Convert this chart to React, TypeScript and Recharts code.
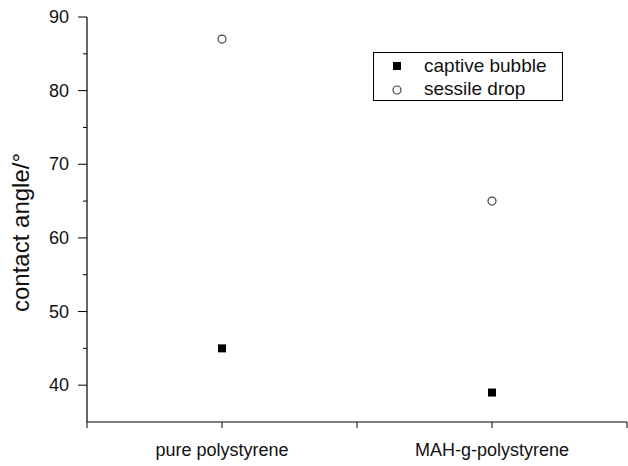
import { ScatterChart, Scatter, XAxis, YAxis } from "recharts";

const categories = ["pure polystyrene", "MAH-g-polystyrene"];
const captiveBubble = [45, 39];
const sessileDrop = [87, 65];
const yTicks = [40, 45, 50, 55, 60, 65, 70, 75, 80, 85, 90];
const yLabelTicks = [40, 50, 60, 70, 80, 90];
const xTicks = [0, 1, 2, 3, 4];
const categoryPositions = [1, 3];

const font = "Liberation Sans, Arial, sans-serif";

const bubbleData = categories.map((c, i) => ({ x: categoryPositions[i], y: captiveBubble[i], name: c }));
const dropData = categories.map((c, i) => ({ x: categoryPositions[i], y: sessileDrop[i], name: c }));

function YTick(props: any) {
  const { x, y, payload } = props;
  const major = yLabelTicks.includes(payload.value);
  const ax = x + 8;
  return (
    <g>
      <line x1={ax} x2={ax - (major ? 9 : 4)} y1={y} y2={y} stroke="#000" strokeWidth={1} />
      {major && (
        <text x={ax - 18} y={y} textAnchor="end" dominantBaseline="central" fontSize={18} fontFamily={font} fill="#111">
          {payload.value}
        </text>
      )}
    </g>
  );
}

function XTick(props: any) {
  const { x, y, payload } = props;
  const idx = categoryPositions.indexOf(payload.value);
  const ay = y - 8;
  return (
    <g>
      <line x1={x} x2={x} y1={ay} y2={ay + 6} stroke="#000" strokeWidth={1} />
      {idx >= 0 && (
        <text x={x} y={ay + 34} textAnchor="middle" fontSize={18} fontFamily={font} fill="#111">
          {categories[idx]}
        </text>
      )}
    </g>
  );
}

function Square(props: any) {
  const { cx, cy } = props;
  return <rect x={cx - 4} y={cy - 4} width={8} height={8} fill="#000" />;
}

function OpenCircle(props: any) {
  const { cx, cy } = props;
  return <circle cx={cx} cy={cy} r={4} fill="#fff" stroke="#444" strokeWidth={1.2} />;
}

function LegendBox() {
  return (
    <div
      style={{
        position: "absolute",
        left: 373,
        top: 52,
        width: 188,
        height: 47,
        border: "1px solid #000",
        fontFamily: font,
        fontSize: 19,
        color: "#111",
        background: "#fff",
      }}
    >
      <svg width={40} height={47} style={{ position: "absolute", left: 0, top: 0 }}>
        <rect x={19} y={9} width={8} height={8} fill="#000" />
        <circle cx={23} cy={37} r={4} fill="#fff" stroke="#444" strokeWidth={1.2} />
      </svg>
      <div style={{ position: "absolute", left: 50, top: 1, lineHeight: "23px" }}>captive bubble</div>
      <div style={{ position: "absolute", left: 50, top: 24, lineHeight: "23px" }}>sessile drop</div>
    </div>
  );
}

export default function App() {
  return (
    <div style={{ position: "absolute", left: 0, top: 0, width: 628, height: 466, background: "#fff" }}>
      <ScatterChart width={628} height={466} margin={{ top: 17, right: 1, left: 0, bottom: 0 }}>
        <XAxis
          type="number"
          dataKey="x"
          domain={[0, 4]}
          ticks={xTicks}
          interval={0}
          axisLine={{ stroke: "#000", strokeWidth: 1.2 }}
          tickLine={false}
          tick={<XTick />}
          height={44}
        />
        <YAxis
          type="number"
          dataKey="y"
          domain={[35, 90]}
          ticks={yTicks}
          interval={0}
          axisLine={{ stroke: "#000", strokeWidth: 1.2 }}
          tickLine={false}
          tick={<YTick />}
          width={87}
          label={{
            value: "contact angle/°",
            angle: -90,
            position: "insideLeft",
            offset: 0,
            dx: 20,
            dy: 13,
            style: { fontSize: 24, fontFamily: font, fill: "#111", textAnchor: "middle" },
          }}
        />
        <Scatter name="captive bubble" data={bubbleData} shape={<Square />} isAnimationActive={false} />
        <Scatter name="sessile drop" data={dropData} shape={<OpenCircle />} isAnimationActive={false} />
      </ScatterChart>
      <LegendBox />
    </div>
  );
}
